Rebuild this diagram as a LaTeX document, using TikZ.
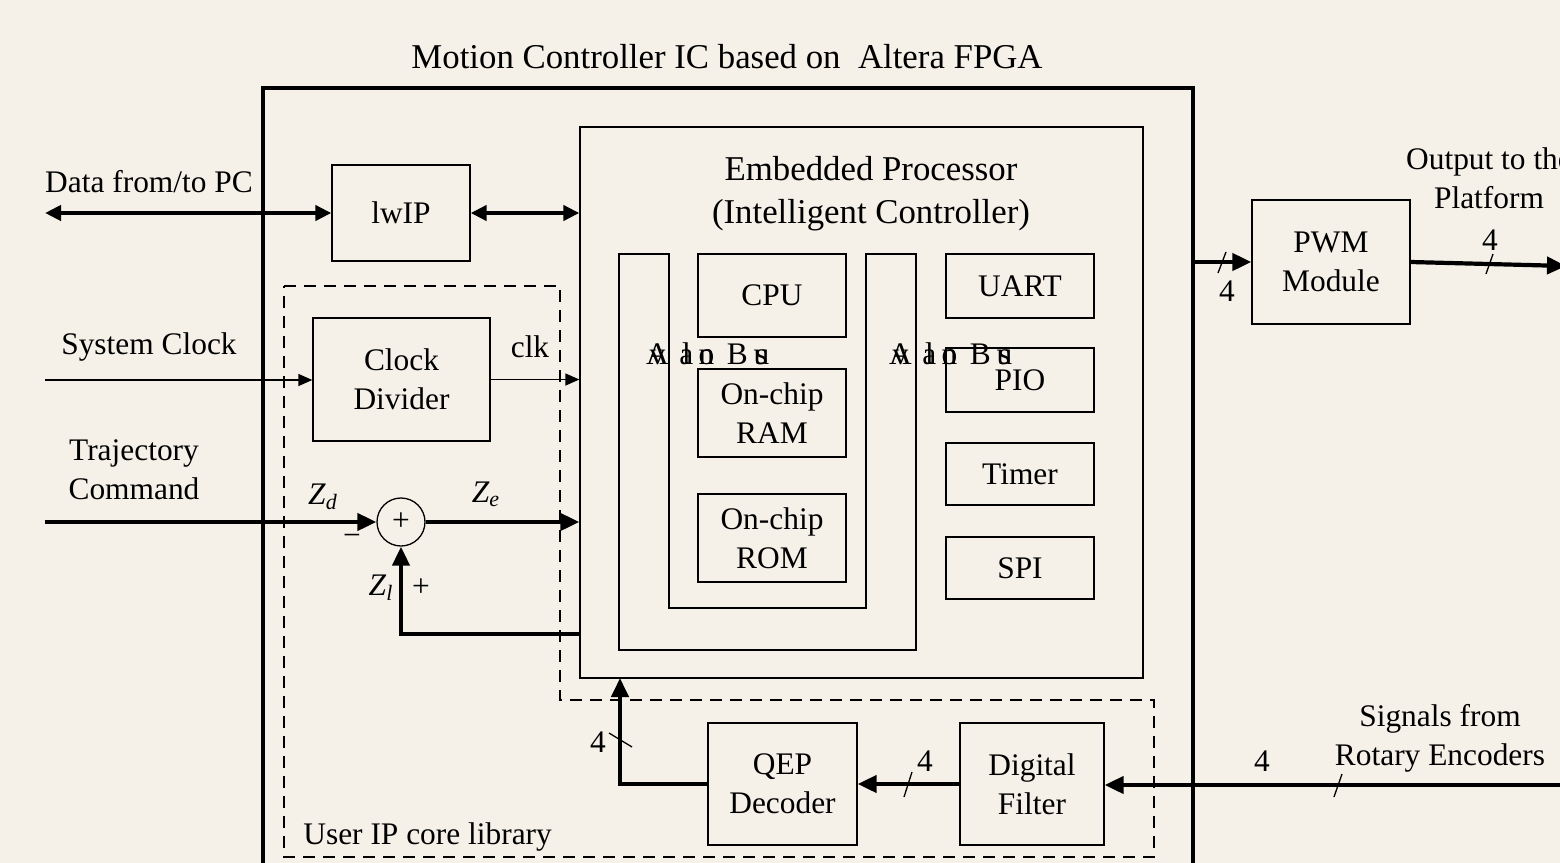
\documentclass[tikz,border=0pt]{standalone}
\usepackage{fontspec}
\setmainfont{Liberation Serif}
\usetikzlibrary{arrows.meta}
\definecolor{bgcol}{HTML}{F5F1E9}
\newcommand{\zsub}[1]{\textit{Z}\textsubscript{\textit{#1}}}
\newcommand{\ovl}[2]{\makebox[0pt]{#1}\makebox[0pt]{#2}}
\newcommand{\avbus}{\ovl{A}{v}\hspace{14.5pt}\ovl{a}{l}\hspace{10pt}\ovl{o}{n}\hspace{15.5pt}\makebox[0pt]{B}\hspace{12pt}\ovl{u}{s}}
\begin{document}
\begin{tikzpicture}[x=0.5pt,y=-0.5pt,
  every node/.style={font=\fontsize{15.7}{19.5}\selectfont, inner sep=0pt, align=center},
  bigtext/.style={font=\fontsize{17.4}{21.5}\selectfont},
  box/.style={draw, line width=0.65pt},
  thinline/.style={line width=0.65pt},
  wire/.style={line width=2.1pt},
  frame/.style={line width=2.2pt},
  dashbox/.style={line width=0.65pt, dash pattern=on 6pt off 4pt},
  bigarrow/.style={-{Triangle[length=9.5pt,width=8.5pt]}},
  dblarrow/.style={{Triangle[length=8pt,width=7.5pt]}-{Triangle[length=8pt,width=7.5pt]}},
  smallarrow/.style={-{Triangle[length=7pt,width=6pt]}}]
\useasboundingbox (0,0) rectangle (1560,863);
\fill[bgcol] (0,0) rectangle (1560,863);

% title and outer frame
\node[bigtext] (title) at (727,57) {Motion Controller IC based on\ \ Altera FPGA};
\draw[frame] (263,875) -- (263,88) -- (1193,88) -- (1193,875);

% dashed user IP region
\draw[dashbox] (284,286) -- (560,286) -- (560,700) -- (1154,700) -- (1154,857) -- (284,857) -- cycle;
\node[anchor=west] (lib) at (303,837) {User IP core library};

% embedded processor
\node[box, minimum width=281.5pt, minimum height=275.5pt] (emb) at (861.5,402.5) {};
\node[bigtext] (embt) at (871,194) {Embedded Processor\\(Intelligent Controller)};
\draw[box] (619,254) -- (619,650) -- (916,650) -- (916,254) -- (866,254) -- (866,608) -- (669,608) -- (669,254) -- cycle;
\node[box, minimum width=74pt, minimum height=41.5pt] (cpu) at (772,295.5) {CPU};
\node[box, minimum width=74pt, minimum height=44pt] (ram) at (772,413) {On-chip\\RAM};
\node[box, minimum width=74pt, minimum height=44pt] (rom) at (772,538) {On-chip\\ROM};
\node[box, minimum width=74pt, minimum height=32pt] (uart) at (1020,286) {UART};
\node[box, minimum width=74pt, minimum height=32pt] (pio) at (1020,380) {PIO};
\node[box, minimum width=74pt, minimum height=31pt] (timer) at (1020,474) {Timer};
\node[box, minimum width=74pt, minimum height=31pt] (spi) at (1020,568) {SPI};
\node[anchor=base west] (busl) at (657,364) {\avbus};
\node[anchor=base west] (busr) at (900,364) {\avbus};

% lwIP
\node[box, minimum width=69pt, minimum height=48pt] (lwip) at (401,213) {lwIP};
\node (pctext) at (149,182) {Data from/to PC};
\coordinate (pc) at (45,213);
\draw[wire, dblarrow] (pc) -- (lwip.west);
\draw[wire, dblarrow] (lwip.east) -- (lwip.east -| emb.west);

% clock
\node[box, minimum width=88.5pt, minimum height=61.5pt] (clkdiv) at (401.5,379.5) {Clock\\Divider};
\node (systext) at (149,347) {System Clock};
\node (clktext) at (530,347) {clk};
\coordinate (clkin) at (45,380);
\draw[thinline, smallarrow] (clkin) -- (clkin -| clkdiv.west);
\draw[thinline, smallarrow] (clkdiv.east) -- (clkdiv.east -| emb.west);

% summing junction
\node (trajtext) at (134,470) {Trajectory\\Command};
\node[draw, circle, line width=0.65pt, minimum size=24pt] (sum) at (401,522) {+};
\coordinate (trajin) at (45,522);
\draw[wire, bigarrow] (trajin) -- (sum.west);
\draw[wire, bigarrow] (sum.east) -- (sum.east -| emb.west);
\coordinate (fb) at (580,634);
\draw[wire, bigarrow] (fb) -| (sum.south);
\node (zd) at (323,497) {\zsub{d}};
\node (minus) at (352,540) {\textminus};
\node (ze) at (486,494) {\zsub{e}};
\node (zl) at (381,588) {\zsub{l}};
\node (plus) at (421,588) {+};

% PWM
\node[box, minimum width=79pt, minimum height=62pt] (pwm) at (1331,262) {PWM\\Module};
\coordinate (pwmsrc) at (1193,262);
\draw[wire, bigarrow] (pwmsrc) -- (pwm.west);
\draw[thinline] (1218,273) -- (1226,252);
\node (n1) at (1227,291) {4};
\coordinate (outend) at (1566,266);
\draw[wire, bigarrow] (pwm.east) -- (outend);
\draw[thinline] (1486,274) -- (1493,254);
\node (n2) at (1490,240) {4};
\node (outtext) at (1489,178) {Output to the\\Platform};

% encoders, filter, QEP
\node[box, minimum width=72pt, minimum height=61pt] (filt) at (1032,784) {Digital\\Filter};
\node[box, minimum width=74.5pt, minimum height=61pt] (qep) at (782.5,784) {QEP\\Decoder};
\node (enctext) at (1440,738) {Signals from\\Rotary Encoders};
\coordinate (encin) at (1566,785);
\draw[wire, bigarrow] (encin) -- (filt.east |- encin);
\draw[thinline] (1334,797) -- (1342,774);
\node (n3) at (1262,761) {4};
\draw[wire, bigarrow] (filt.west) -- (qep.east);
\draw[thinline] (904,797) -- (912,772);
\node (n4) at (925,761) {4};
\coordinate (qepin) at (620,678);
\draw[wire, bigarrow] (qep.west) -| (qepin);
\draw[thinline] (609,733) -- (632,747);
\node (n5) at (598,742) {4};
\end{tikzpicture}
\end{document}
